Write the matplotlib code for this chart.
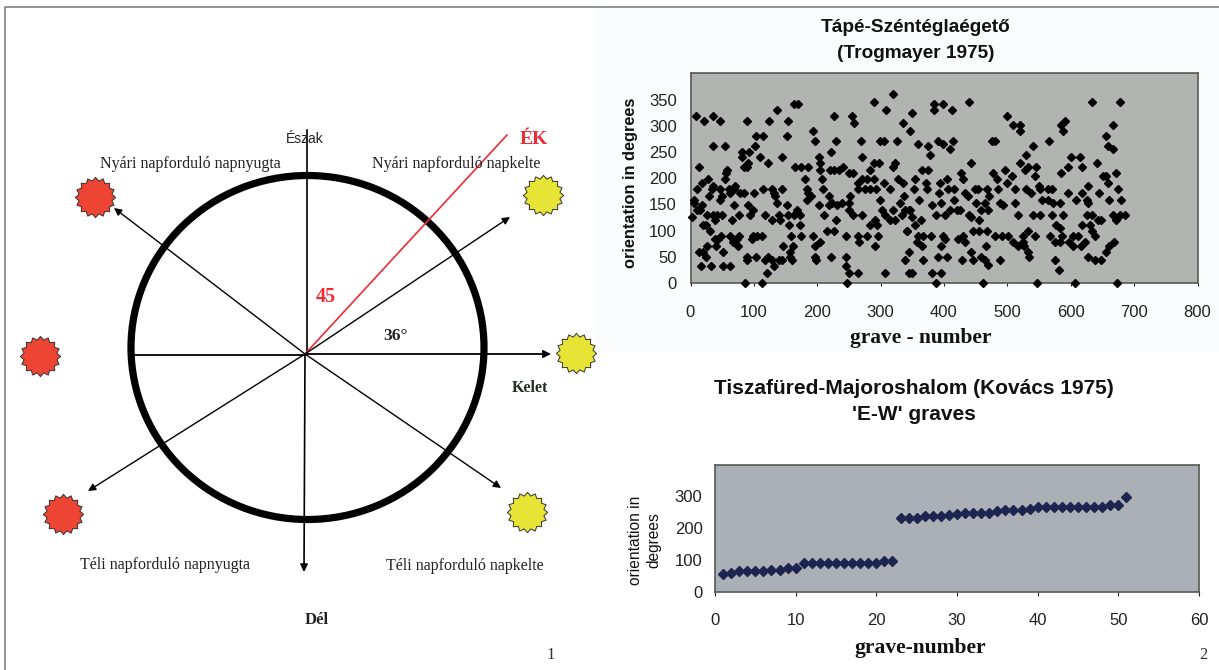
import matplotlib
matplotlib.use('Agg')
import matplotlib.pyplot as plt
from matplotlib.patches import Ellipse
from matplotlib.path import Path

# Kepmeret pixelben
W, H = 1219, 670

# Felso pontdiagram: tajolas fokban -> sirszamok
tape_orient = [361, 345, 341, 330, 325, 318, 310, 305, 301, 290, 281, 272, 266, 261, 255, 251, 245, 240, 230, 222,
               215, 210, 204, 198, 191, 185, 180, 172, 166, 159, 153, 148, 140, 130, 126, 120, 111, 105, 99, 90,
               84, 78, 71, 70, 60, 50, 43, 35, 32, 24, 19, 0]
tape_graves = [
    [320],
    [440, 633, 677, 290],
    [164, 170, 385, 398],
    [137, 309, 385, 412],
    [349],
    [8, 35, 227, 255, 499],
    [22, 46, 89, 124, 154, 591],
    [258, 335],
    [509, 520, 585, 667],
    [194, 346, 520, 588],
    [104, 115, 152, 656],
    [196, 230, 269, 299, 305, 326, 475, 480, 566, 391, 414],
    [359, 398],
    [35, 55, 102, 375, 541, 659],
    [409, 667],
    [81, 93, 221],
    [378, 530],
    [81, 110, 144, 202, 270, 601, 615],
    [91, 123, 205, 289, 297, 323, 442, 520, 641],
    [13, 84, 89, 165, 174, 185, 241, 320, 533, 545, 596, 617],
    [57, 205, 220, 226, 234, 284, 366, 375, 496, 528],
    [56, 250, 257, 427, 478, 584, 672],
    [507, 543, 651, 656],
    [27, 55, 181, 207, 270, 278, 289, 328, 354, 405, 430, 483],
    [18, 305, 336, 265, 393, 500, 659, 372],
    [36, 70, 550, 628],
    [11, 34, 47, 60, 68, 114, 128, 144, 184, 209, 265, 276, 284, 292, 315, 352, 373, 406, 416, 449, 454, 468, 485,
     512, 529, 551, 564, 571, 675],
    [62, 78, 85, 100, 131, 186, 392, 433, 538, 595, 618, 645],
    [29, 49, 134, 190, 218, 252, 337, 438, 471],
    [6, 47, 184, 299, 361, 415, 608, 660, 679, 554, 564, 625],
    [5, 136, 223, 239, 250, 331, 396, 450, 464, 488, 512, 572, 583, 627],
    [18, 69, 91, 152, 203, 218, 231, 381, 493],
    [10, 15, 99, 168, 250, 302, 320, 339, 344, 346, 409, 420, 425, 470, 459],
    [26, 36, 42, 49, 77, 94, 117, 139, 154, 164, 173, 211, 257, 270, 307, 334, 541, 686, 388, 401, 440, 517, 551,
     570, 588, 625, 634, 667, 677],
    [2, 350, 443],
    [39, 66, 129, 141, 229, 291, 315, 323, 363, 455, 643, 672, 648],
    [20, 24, 155, 173, 284, 294, 354, 577, 618, 631],
    [583],
    [30, 215, 226, 341, 342, 445, 456, 468, 533, 634],
    [48, 62, 77, 99, 105, 113, 159, 175, 193, 245, 265, 278, 296, 359, 367, 379, 399, 430, 480, 491, 501, 525, 543,
     568, 586, 603, 612, 638],
    [39, 43, 73, 97, 422, 401],
    [67, 266, 205, 357, 433, 509, 525, 575, 583, 598, 622, 669],
    [26, 41, 75, 146, 162, 196, 291, 366, 466],
    [396, 517, 527, 604, 616, 661],
    [13, 20, 51, 157, 344, 443, 533, 655],
    [24, 89, 104, 123, 157, 196, 222, 246, 391, 404, 458, 534, 627],
    [89, 117, 128, 139, 144, 160, 198, 338, 367, 429, 445, 575, 464, 489, 638, 648],
    [470],
    [17, 33, 52, 62, 131, 246],
    [581],
    [120, 250, 265, 307, 345, 350, 381, 395],
    [86, 113, 247, 387, 462, 546, 606, 673],
]

# Also diagram: sirszam es tajolas
tisza_graves = list(range(1, 52))
tisza_orient = [55, 60, 65, 65, 65, 65, 70, 70, 75, 75, 90, 90, 90, 90, 90, 90, 90, 90, 90, 90, 97, 97,
                232, 232, 232, 238, 238, 238, 240, 245, 248, 248, 248, 248, 252, 256, 256, 256, 260,
                265, 265, 265, 265, 265, 265, 265, 265, 265, 272, 272, 297]

# Napok helye a vazlaton
sun_red_x = [95, 40, 63]
sun_red_y = [197, 356, 514]
sun_yellow_x = [543, 576, 527]
sun_yellow_y = [195, 353, 512]

serif = 'Liberation Serif'
sans = 'Liberation Sans'

fig = plt.figure(figsize=(W / 100, H / 100), dpi=100, facecolor='white')


def px_axes(left, top, right, bottom, **kw):
    return fig.add_axes([left / W, 1 - bottom / H, (right - left) / W, (bottom - top) / H], **kw)


# Vazlat pixel koordinatakban
bg = px_axes(0, 0, W, H)
bg.set_xlim(0, W)
bg.set_ylim(H, 0)
bg.axis('off')

bg.plot([5, 5, 1219], [670, 7, 7], color='#777777', lw=1.1)
bg.add_patch(plt.Rectangle((596, 8), 623, 344, color='#fbfcfe', lw=0))

bg.add_patch(Ellipse((307.5, 347.5), 353, 344, fill=False, ec='black', lw=5.2))
bg.plot([132, 305], [355, 355], color='black', lw=1.3)
bg.plot([307, 307], [130, 354], color='black', lw=1.2)


def arrow(x0, y0, x1, y1, lw=1.0):
    bg.annotate('', xy=(x1, y1), xytext=(x0, y0),
                arrowprops=dict(arrowstyle='-|>', color='black', lw=lw, mutation_scale=11, shrinkA=0, shrinkB=0))


arrow(305, 354, 114, 208)
arrow(305, 354, 510, 217)
arrow(305, 354, 88, 491)
arrow(305, 354, 501, 488)
arrow(305, 354, 551, 354, lw=1.3)
arrow(305, 354, 304, 572, lw=1.2)
bg.plot([305, 507], [354, 135], color='#ee2b36', lw=1.2)

star = Path.unit_regular_star(16, innerCircle=0.83)
bg.plot(sun_red_x, sun_red_y, ls='none', marker=star, ms=29, mfc='#ee4433', mec='#333333', mew=0.7)
bg.plot(sun_yellow_x, sun_yellow_y, ls='none', marker=star, ms=29, mfc='#e8e436', mec='#333333', mew=0.7)


def txt(x, y, s, size=10.5, color='#222222', weight='normal', family=serif, rotation=0, spacing=1.15):
    bg.text(x, y, s, fontsize=size, color=color, fontweight=weight, family=family, rotation=rotation,
            ha='center', va='center', linespacing=spacing)


txt(305, 139, 'Észak', 10, family=sans)
txt(190, 164, 'Nyári napforduló napnyugta', 11.5)
txt(456, 164, 'Nyári napforduló napkelte', 11.5)
txt(534, 139, 'ÉK', 14, color='#ee2b36', weight='bold')
txt(326, 297, '45', 14.5, color='#ee2b36', weight='bold')
txt(396, 336, '36°', 12.5, weight='bold')
txt(530, 388, 'Kelet', 11.5, weight='bold', color='#203020')
txt(164.5, 565, 'Téli napforduló napnyugta', 11.5)
txt(465, 566, 'Téli napforduló napkelte', 11.5)
txt(317, 620, 'Dél', 12, weight='bold')
txt(551, 655, '1', 12, color='#333333')
txt(1203, 655, '2', 12, color='#333333')

txt(916, 27, 'Tápé-Széntéglaégető', 13.7, color='#111111', weight='bold', family=sans)
txt(916, 53, '(Trogmayer 1975)', 13.7, color='#111111', weight='bold', family=sans)
txt(914, 388, 'Tiszafüred-Majoroshalom (Kovács 1975)', 15, color='#111111', weight='bold', family=sans)
txt(914, 415, "'E-W' graves", 15, color='#111111', weight='bold', family=sans)
txt(631, 183, 'orientation in degrees', 11.8, color='#111111', weight='bold', family=sans, rotation=90)
txt(645, 540, 'orientation in\ndegrees', 11.2, color='#111111', family=sans, rotation=90, spacing=1.3)
txt(921, 338, 'grave - number', 15.4, color='#111111', weight='bold')
txt(920, 648, 'grave-number', 15.5, color='#111111', weight='bold')

# Felso pontdiagram
ax1 = px_axes(690.5, 73, 1197.5, 283, facecolor='#b2b4b2')
for orient, graves in zip(tape_orient, tape_graves):
    ax1.plot(graves, [orient] * len(graves), ls='none', marker='D', ms=4.4, color='black', clip_on=False, zorder=3)
ax1.set_xlim(0, 800)
ax1.set_ylim(0, 401)
ax1.set_xticks(range(0, 801, 100))
ax1.set_yticks(range(0, 351, 50))
ax1.tick_params(labelsize=12, colors='#222222')
ax1.tick_params(axis='x', length=2.5, width=0.8, pad=13)
ax1.tick_params(axis='y', length=0, pad=10)

# Also diagram
ax2 = px_axes(715, 465, 1199, 592, facecolor='#aab0b5')
ax2.plot(tisza_graves, tisza_orient, ls='none', marker='D', ms=4.6, color='#1c2450', clip_on=False, zorder=3)
ax2.set_xlim(0, 60)
ax2.set_ylim(0, 397)
ax2.set_xticks(range(0, 61, 10))
ax2.set_yticks(range(0, 301, 100))
ax2.tick_params(labelsize=12, colors='#222222')
ax2.tick_params(axis='x', length=3, width=0.8, pad=12)
ax2.tick_params(axis='y', length=0, pad=9)

for ax in (ax1, ax2):
    for lab in ax.get_xticklabels() + ax.get_yticklabels():
        lab.set_family(sans)
    for spine in ax.spines.values():
        spine.set_color('#555a50')
        spine.set_linewidth(1.2)

fig.savefig('out.png', dpi=100)
